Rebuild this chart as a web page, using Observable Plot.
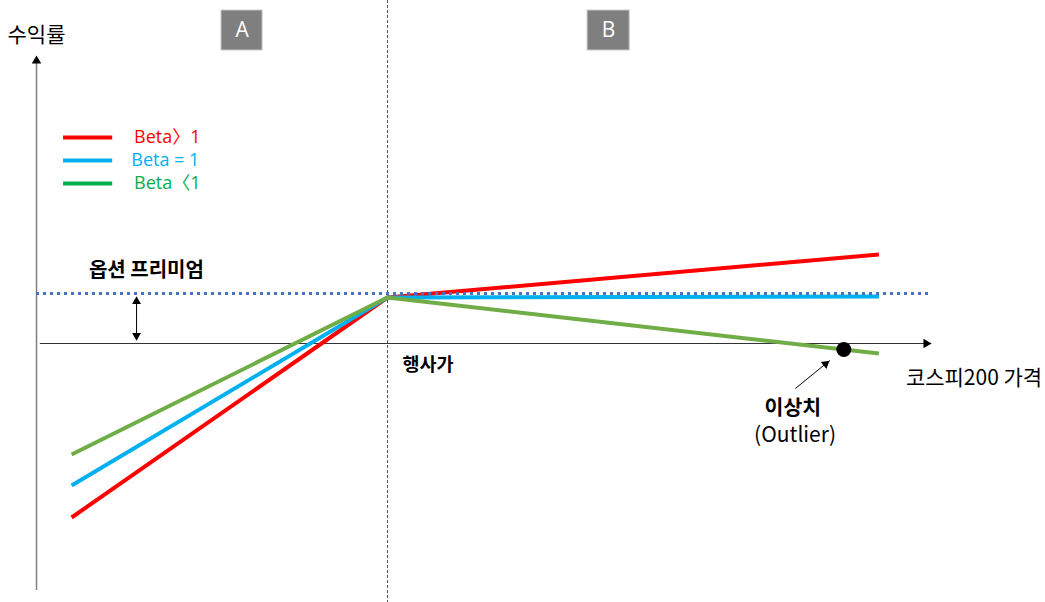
<!DOCTYPE html>
<html>
<head>
<meta charset="utf-8">
<script src="https://cdn.jsdelivr.net/npm/d3@7"></script>
<script src="https://cdn.jsdelivr.net/npm/@observablehq/plot@0.6"></script>
<style>
  html, body { margin: 0; padding: 0; background: #fff; }
  #chart svg { display: block; }
</style>
</head>
<body>
<div id="chart"></div>
<script>
// ---- data (abstract units: x = KOSPI200 price, y = return) ----
const seriesNames = ["Beta〉1", "Beta = 1", "Beta〈1"];
const seriesColors = ["#ff0000", "#00b0f0", "#70ad47"];
const legendColors = ["#ff0000", "#00b0f0", "#00b050"];
const priceX = [10, 100, 240];
const redY = [-34.8, 9.2, 17.8];
const blueY = [-28.4, 9.2, 9.4];
const greenY = [-22.2, 9.2, -2.0];
const strike = 100;
const premium = 10;
const outlierX = [230];
const outlierY = [-1.2];
const regionLabels = ["A", "B"];

// ---- frame ----
const W = 1045, H = 602;
const xDomain = [-10.26, 287.46];
const yDomain = [-51.8, 68.6];
const pxX = W / (xDomain[1] - xDomain[0]);
const pxY = H / (yDomain[1] - yDomain[0]);

const lines = [];
[redY, blueY, greenY].forEach((ys, i) => {
  priceX.forEach((x, j) => lines.push({series: seriesNames[i], x, y: ys[j]}));
});

// annotation anchors (in data units)
const yAxisTop = 57.6, yAxisBottom = -49.4, xAxisEnd = 255, xAxisStart = 1.1;
const premArrowX = 28.5;
const outArrow = {x1: 216.2, y1: -9.0, x2: 226.0, y2: -3.4};
const theta = Math.atan2((outArrow.x2 - outArrow.x1) * pxX, (outArrow.y2 - outArrow.y1) * pxY) * 180 / Math.PI;
const headOff = 5.4;
const thRad = theta * Math.PI / 180;

const boxes = [
  {label: regionLabels[0], x1: 52.7, x2: 64.4, y1: 58.6, y2: 66.6},
  {label: regionLabels[1], x1: 157.0, x2: 169.0, y1: 58.6, y2: 66.6}
];

const legend = seriesNames.map((s, i) => ({
  s, color: legendColors[i], x1: 7.7, x2: 21.7, y: [41.2, 36.6, 32.0][i], tx: [27.8, 27.0, 27.8][i]
}));

const font = "'Noto Sans CJK KR', 'Noto Sans', sans-serif";
const latin = "'Open Sans', 'Noto Sans CJK KR', sans-serif";

const plot = Plot.plot({
  width: W, height: H,
  margin: 0,
  x: {domain: xDomain, axis: null},
  y: {domain: yDomain, axis: null},
  style: {background: "#fff", fontFamily: font},
  marks: [
    // strike dashed divider
    Plot.ruleX([strike], {stroke: "#555", strokeWidth: 1, strokeDasharray: "3,2"}),
    // y axis
    Plot.ruleX([0], {y1: yAxisBottom, y2: yAxisTop - 1, stroke: "#808080", strokeWidth: 1.5}),
    Plot.dot([{x: 0, y: yAxisTop}], {x: "x", y: "y", symbol: "triangle", r: 3.5, fill: "#000", dy: headOff}),
    // x axis
    Plot.ruleY([0], {x1: xAxisStart, x2: xAxisEnd - 1, stroke: "#333", strokeWidth: 1}),
    Plot.dot([{x: xAxisEnd, y: 0}], {x: "x", y: "y", symbol: "triangle", r: 3.5, fill: "#000", rotate: 90, dx: -headOff}),
    // payoff lines
    Plot.line(lines, {x: "x", y: "y", z: "series", stroke: d => seriesColors[seriesNames.indexOf(d.series)], strokeWidth: 4, strokeLinecap: "butt", strokeLinejoin: "round"}),
    // premium dotted line
    Plot.ruleY([premium], {x1: 0, x2: xAxisEnd, stroke: "#4472c4", strokeWidth: 3, strokeDasharray: "3,4"}),
    // premium double arrow
    Plot.ruleX([premArrowX], {y1: 1.5, y2: 8.5, stroke: "#000", strokeWidth: 1}),
    Plot.dot([{x: premArrowX, y: 9.4}], {x: "x", y: "y", symbol: "triangle", r: 3.3, fill: "#000", dy: 5}),
    Plot.dot([{x: premArrowX, y: 0.6}], {x: "x", y: "y", symbol: "triangle", r: 3.3, fill: "#000", rotate: 180, dy: -5}),
    // outlier
    Plot.dot(outlierX.map((x, i) => ({x, y: outlierY[i]})), {x: "x", y: "y", r: 7.5, fill: "#000"}),
    Plot.link([outArrow], {x1: "x1", y1: "y1", x2: "x2", y2: "y2", stroke: "#000", strokeWidth: 1}),
    Plot.dot([{x: outArrow.x2, y: outArrow.y2}], {x: "x", y: "y", symbol: "triangle", r: 3.3, fill: "#000", rotate: theta,
      dx: -headOff * Math.sin(thRad), dy: headOff * Math.cos(thRad)}),
    // region boxes
    Plot.rect(boxes, {x1: "x1", x2: "x2", y1: "y1", y2: "y2", fill: "#7f7f7f", stroke: "#c8c8c8", strokeWidth: 1}),
    Plot.text(boxes, {x: d => (d.x1 + d.x2) / 2, y: d => (d.y1 + d.y2) / 2, text: "label", fill: "#fff", fontSize: 21, fontFamily: latin}),
    // legend
    Plot.ruleY(legend, {y: "y", x1: "x1", x2: "x2", stroke: "color", strokeWidth: 4}),
    Plot.text(legend, {x: "tx", y: "y", text: "s", fill: "color", textAnchor: "start", fontSize: 18, fontFamily: latin}),
    // labels
    Plot.text(["수익률"], {x: 0, y: 61.6, text: d => d, fontSize: 21, fill: "#000", fontFamily: font}),
    Plot.text(["옵션 프리미엄"], {x: 31.3, y: 14.6, text: d => d, fontSize: 20, fontWeight: "bold", fill: "#000", fontFamily: font}),
    Plot.text(["행사가"], {x: strike, y: -4.4, text: d => d, dx: 15, textAnchor: "start", fontSize: 18.5, fontWeight: "bold", fill: "#000", fontFamily: font}),
    Plot.text(["코스피200 가격"], {x: 267.1, y: -7.0, text: d => d, fontSize: 21, fill: "#000", fontFamily: font}),
    Plot.text(["이상치"], {x: 215.5, y: -13.0, text: d => d, fontSize: 20.5, fontWeight: "bold", fill: "#000", fontFamily: font}),
    Plot.text(["(Outlier)"], {x: 216.1, y: -18.4, text: d => d, fontSize: 21, fill: "#000", fontFamily: font})
  ]
});
document.getElementById("chart").appendChild(plot);
</script>
</body>
</html>
